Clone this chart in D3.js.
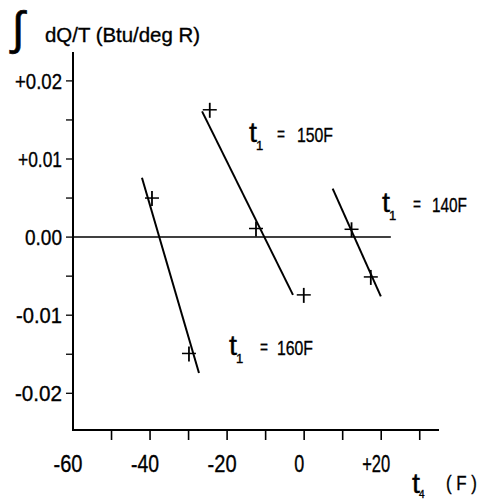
<!DOCTYPE html>
<html>
<head>
<meta charset="utf-8">
<script src="https://cdn.jsdelivr.net/npm/d3@7"></script>
<style>
  body { margin: 0; background: #fff; }
  svg { display: block; }
  text { font-family: "Liberation Sans", Arial, sans-serif; fill: #000; stroke: #000; stroke-width: 0.35px; }
</style>
</head>
<body>
<svg id="chart" width="487" height="500"></svg>
<script>
// ---- data ----
const xTickValues = [-50, -40, -30, -20, -10, 0, 10, 20, 30];
const xLabelValues = [-60, -40, -20, 0, 20];
const xLabelTexts = ["-60", "-40", "-20", "0", "+20"];
const yMajorTicks = [0.02, 0.01, 0, -0.01, -0.02];
const yLabelTexts = ["+0.02", "+0.01", "0.00", "-0.01", "-0.02"];
const yMinorTicks = [0.015, 0.005, -0.005, -0.015];

const seriesLabels = ["160F", "150F", "140F"];
const series160Points = [[-39.5, 0.0050], [-29.9, -0.0149]];
const series160Line = [[-42.1, 0.0076], [-27.3, -0.0174]];
const series150Points = [[-24.5, 0.0163], [-12.5, 0.0011], [-0.1, -0.0074]];
const series150Line = [[-26.5, 0.0161], [-2.9, -0.0074]];
const series140Points = [[12.3, 0.0010], [17.3, -0.0051]];
const series140Line = [[7.4, 0.0062], [19.9, -0.0076]];
const zeroLine = [[-60, 0], [22.5, 0]];

// ---- scales ----
const svg = d3.select("#chart");
const x = d3.scaleLinear().domain([-60, 35]).range([73, 439]);
const y = d3.scaleLinear().domain([-0.0247, 0.0237]).range([430, 52]);

function txt(xp, yp, str, size, width, anchor) {
  const t = svg.append("text").attr("x", xp).attr("y", yp).attr("font-size", size)
    .attr("text-anchor", anchor || "start").text(str);
  if (width) t.attr("textLength", width).attr("lengthAdjust", "spacingAndGlyphs");
  return t;
}

// axes lines
svg.append("line").attr("x1", x(-60)).attr("x2", x(-60)).attr("y1", y(0.0237)).attr("y2", y(-0.0247))
  .attr("stroke", "#000").attr("stroke-width", 2);
svg.append("line").attr("x1", x(-60) - 1).attr("x2", x(35)).attr("y1", y(-0.0247)).attr("y2", y(-0.0247))
  .attr("stroke", "#000").attr("stroke-width", 2);

// y ticks
svg.selectAll(".ytick").data(yMajorTicks.concat(yMinorTicks)).enter().append("line")
  .attr("x1", x(-60) - 7).attr("x2", x(-60)).attr("y1", d => y(d)).attr("y2", d => y(d))
  .attr("stroke", "#000").attr("stroke-width", 1.3);
const yLabW = [47, 44, 37, 46, 47];
yMajorTicks.forEach((d, i) => {
  txt(62, y(d) + 8, yLabelTexts[i], 22, yLabW[i], "end");
});

// x ticks
svg.selectAll(".xtick").data(xTickValues).enter().append("line")
  .attr("x1", d => x(d)).attr("x2", d => x(d)).attr("y1", y(-0.0247)).attr("y2", y(-0.0247) + 10)
  .attr("stroke", "#000").attr("stroke-width", 1.6);
const xLabW = [29, 28, 29, 10, 28];
xLabelValues.forEach((d, i) => {
  txt(x(d) - 5, 472, xLabelTexts[i], 23, xLabW[i], "middle");
});

// zero line
const line = d3.line().x(d => x(d[0])).y(d => y(d[1]));
svg.append("path").attr("d", line(zeroLine)).attr("fill", "none").attr("stroke", "#000").attr("stroke-width", 1.5);

// series
const lines = [series160Line, series150Line, series140Line];
const points = [series160Points, series150Points, series140Points];
lines.forEach(l => {
  svg.append("path").attr("d", line(l)).attr("fill", "none").attr("stroke", "#000").attr("stroke-width", 2);
});
points.forEach(p => {
  const g = svg.append("g");
  p.forEach(d => {
    const cx = x(d[0]), cy = y(d[1]);
    g.append("line").attr("x1", cx - 7).attr("x2", cx + 7).attr("y1", cy).attr("y2", cy).attr("stroke", "#000").attr("stroke-width", 1.5);
    g.append("line").attr("x1", cx).attr("x2", cx).attr("y1", cy - 7).attr("y2", cy + 8).attr("stroke", "#000").attr("stroke-width", 1.8);
  });
});

// annotations: t1 = ...
function tLabel(tx, base, eqX, valX, val, valW) {
  txt(tx, base, "t", 28, 8);
  txt(tx + 7, base + 8, "1", 13);
  txt(eqX, base - 1, "=", 20, 8);
  txt(valX, base, val, 21, valW);
}
tLabel(249, 142, 277, 297, seriesLabels[1], 36);
tLabel(382, 212, 413, 432, seriesLabels[2], 35);
tLabel(229, 355, 260, 277, seriesLabels[0], 36);

// x axis title
txt(412, 493, "t", 28, 8);
txt(419, 498, "4", 10);
txt(446, 490, "( F )", 21, 31);

// y title
svg.append("text").attr("x", 12).attr("y", 44).attr("font-size", 46).attr("font-family", "DejaVu Sans")
  .style("stroke-width", "0.6px").text("∫");
txt(45, 42, "dQ/T (Btu/deg R)", 21, 155);
</script>
</body>
</html>
